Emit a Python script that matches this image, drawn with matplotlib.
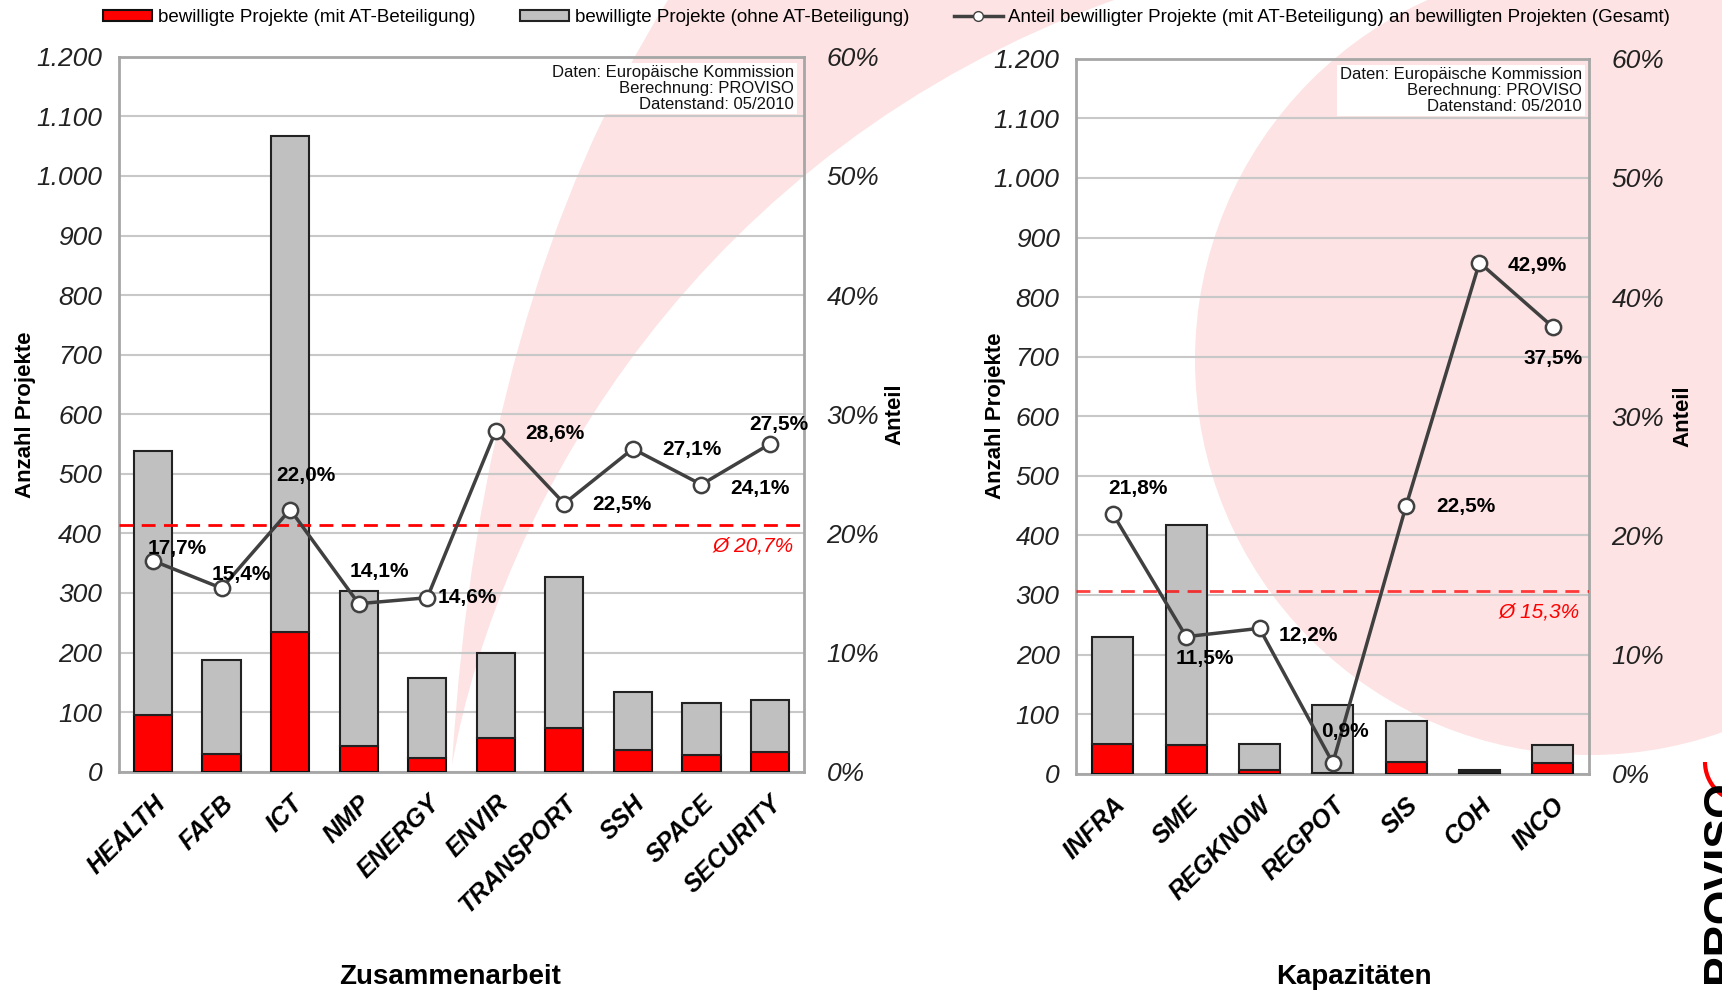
import matplotlib
matplotlib.use("Agg")
import matplotlib.pyplot as plt
from matplotlib.patches import Circle, PathPatch, Patch, Arc
from matplotlib.path import Path
from matplotlib.lines import Line2D

plt.rcParams['font.family'] = ['Liberation Sans', 'DejaVu Sans']

# Zusammenarbeit
koop_kat = ['HEALTH', 'FAFB', 'ICT', 'NMP', 'ENERGY', 'ENVIR', 'TRANSPORT', 'SSH', 'SPACE', 'SECURITY']
koop_gesamt = [538, 188, 1067, 304, 157, 199, 326, 133, 116, 120]
koop_mit_at = [95, 29, 235, 43, 23, 57, 73, 36, 28, 33]
koop_anteil = [17.7, 15.4, 22.0, 14.1, 14.6, 28.6, 22.5, 27.1, 24.1, 27.5]
koop_schnitt = 20.7

# Kapazitäten
kap_kat = ['INFRA', 'SME', 'REGKNOW', 'REGPOT', 'SIS', 'COH', 'INCO']
kap_gesamt = [229, 418, 49, 115, 89, 7, 48]
kap_mit_at = [50, 48, 6, 1, 20, 3, 18]
kap_anteil = [21.8, 11.5, 12.2, 0.9, 22.5, 42.9, 37.5]
kap_schnitt = 15.3

# label offsets (pixels) for the percentage labels
koop_offs = [(24, 12), (20, 14), (16, 34), (21, 32), (40, 0), (59, -3), (58, -1), (59, -1), (59, -4), (9, 20)]
kap_offs = [(25, 25), (19, -22), (49, -7), (12, 31), (60, -1), (58, -3), (0, -32)]

ROT = '#ff0000'
GRAU = '#c0c0c0'
LINIE = '#404040'
ROSA = '#fde3e3'

fig = plt.figure(figsize=(17.22, 9.97), dpi=100)

# background watermark (logo shapes)
bg = fig.add_axes([0, 0, 1, 1], zorder=-10)
bg.set_xlim(0, 1722)
bg.set_ylim(997, 0)
bg.axis('off')
bg.add_patch(Circle((1590, 360), 395, facecolor=ROSA, edgecolor='none'))
swoosh = Path([(452, 765), (480, 300), (668, 0), (1114, 0), (700, 150), (500, 500), (452, 765), (452, 765)],
              [Path.MOVETO, Path.CURVE3, Path.CURVE3, Path.LINETO, Path.CURVE4, Path.CURVE4, Path.CURVE4, Path.CLOSEPOLY])
bg.add_patch(PathPatch(swoosh, facecolor=ROSA, edgecolor='none'))
bg.add_patch(Arc((1745, 762), 80, 80, theta1=90, theta2=180, color=ROT, lw=3))
bg.text(1722, 780, 'PROVISO', rotation=90, ha='center', va='top', fontsize=32, fontweight='bold', color='black')


def fmt_de(v):
    return f"{v:,}".replace(",", ".")


def panel(rect, kat, gesamt, mit_at, anteil, schnitt, offs, ylab_x, y2lab_x, avg_alpha):
    ax = fig.add_axes(rect)
    ax.set_facecolor('none')
    x = list(range(len(kat)))
    ohne = [g - m for g, m in zip(gesamt, mit_at)]
    ax.bar(x, mit_at, width=0.56, color=ROT, edgecolor='#111111', linewidth=1.5, zorder=3)
    ax.bar(x, ohne, bottom=mit_at, width=0.56, color=GRAU, edgecolor='#222222', linewidth=1.5, zorder=3)
    ax.set_xlim(-0.5, len(kat) - 0.5)
    ax.set_ylim(0, 1200)
    yt = list(range(0, 1300, 100))
    ax.set_yticks(yt)
    ax.set_yticklabels([fmt_de(v) for v in yt], fontstyle='italic', fontsize=19, color='#222222')
    ax.grid(axis='y', color='#c8c8c8', linewidth=1.5, zorder=0)
    ax.set_axisbelow(True)
    for s in ax.spines.values():
        s.set_color('#a6a6a6')
        s.set_linewidth(2)
    ax.tick_params(length=0)
    ax.tick_params(axis='y', pad=12)
    ax.tick_params(axis='x', pad=14)
    ax.set_xticks(x)
    ax.set_xticklabels(kat, rotation=45, ha='right', rotation_mode='anchor',
                       fontsize=18, fontweight='bold', fontstyle='italic')
    ax.set_ylabel('Anzahl Projekte', fontsize=16, fontweight='bold')
    ax.yaxis.set_label_coords(ylab_x, 0.5)

    ax2 = ax.twinx()
    ax2.set_ylim(0, 60)
    pt = list(range(0, 70, 10))
    ax2.set_yticks(pt)
    ax2.set_yticklabels([f"{v}%" for v in pt], fontstyle='italic', fontsize=19, color='#222222')
    ax2.tick_params(length=0, pad=16)
    for s in ax2.spines.values():
        s.set_visible(False)
    ax2.set_ylabel('Anteil', fontsize=16, fontweight='bold')
    ax2.yaxis.set_label_coords(y2lab_x, 0.5)

    ax2.axhline(schnitt, color=ROT, linestyle=(0, (5, 3)), linewidth=2, alpha=avg_alpha, zorder=2)
    ax2.annotate(f"Ø {schnitt:.1f}%".replace('.', ','), xy=(1, schnitt), xycoords=('axes fraction', 'data'),
                 xytext=(-10, -21), textcoords='offset pixels', ha='right', va='center',
                 color=ROT, fontstyle='italic', fontsize=15)

    ax2.plot(x, anteil, color=LINIE, linewidth=2.5, marker='o', markersize=11,
             markerfacecolor='white', markeredgecolor=LINIE, markeredgewidth=1.8, zorder=5)
    for i, v in enumerate(anteil):
        ax2.annotate(f"{v:.1f}%".replace('.', ','), (i, v), xytext=offs[i], textcoords='offset pixels',
                     ha='center', va='center', fontsize=15, fontweight='bold', zorder=6)

    ax2.text(0.985, 0.988, "Daten: Europäische Kommission\nBerechnung: PROVISO\nDatenstand: 05/2010",
             transform=ax2.transAxes, ha='right', va='top', fontsize=12, linespacing=1.05,
             color='#111111', bbox=dict(facecolor='white', edgecolor='none', pad=2), zorder=7)
    return ax


panel([0.069, 0.226, 0.398, 0.717], koop_kat, koop_gesamt, koop_mit_at, koop_anteil, koop_schnitt,
      koop_offs, -0.121, 1.117, 1.0)
panel([0.625, 0.224, 0.298, 0.717], kap_kat, kap_gesamt, kap_mit_at, kap_anteil, kap_schnitt,
      kap_offs, -0.136, 1.162, 0.75)

fig.text(450 / 1722, 0.02, 'Zusammenarbeit', ha='center', va='center', fontsize=20, fontweight='bold')
fig.text(1354 / 1722, 0.02, 'Kapazitäten', ha='center', va='center', fontsize=20, fontweight='bold')

handles = [Patch(facecolor=ROT, edgecolor='#111111', linewidth=1.5),
           Patch(facecolor=GRAU, edgecolor='#222222', linewidth=1.5),
           Line2D([], [], color=LINIE, linewidth=2.5, marker='o', markersize=7,
                  markerfacecolor='white', markeredgecolor=LINIE)]
labels = ['bewilligte Projekte (mit AT-Beteiligung)',
          'bewilligte Projekte (ohne AT-Beteiligung)',
          'Anteil bewilligter Projekte (mit AT-Beteiligung) an bewilligten Projekten (Gesamt)']
fig.legend(handles, labels, loc='center', bbox_to_anchor=(0.515, 0.982), ncol=3, frameon=False,
           fontsize=13.5, handlelength=2.6, handleheight=0.5, columnspacing=2.4, handletextpad=0.3)

fig.savefig('out.png', dpi=100)
